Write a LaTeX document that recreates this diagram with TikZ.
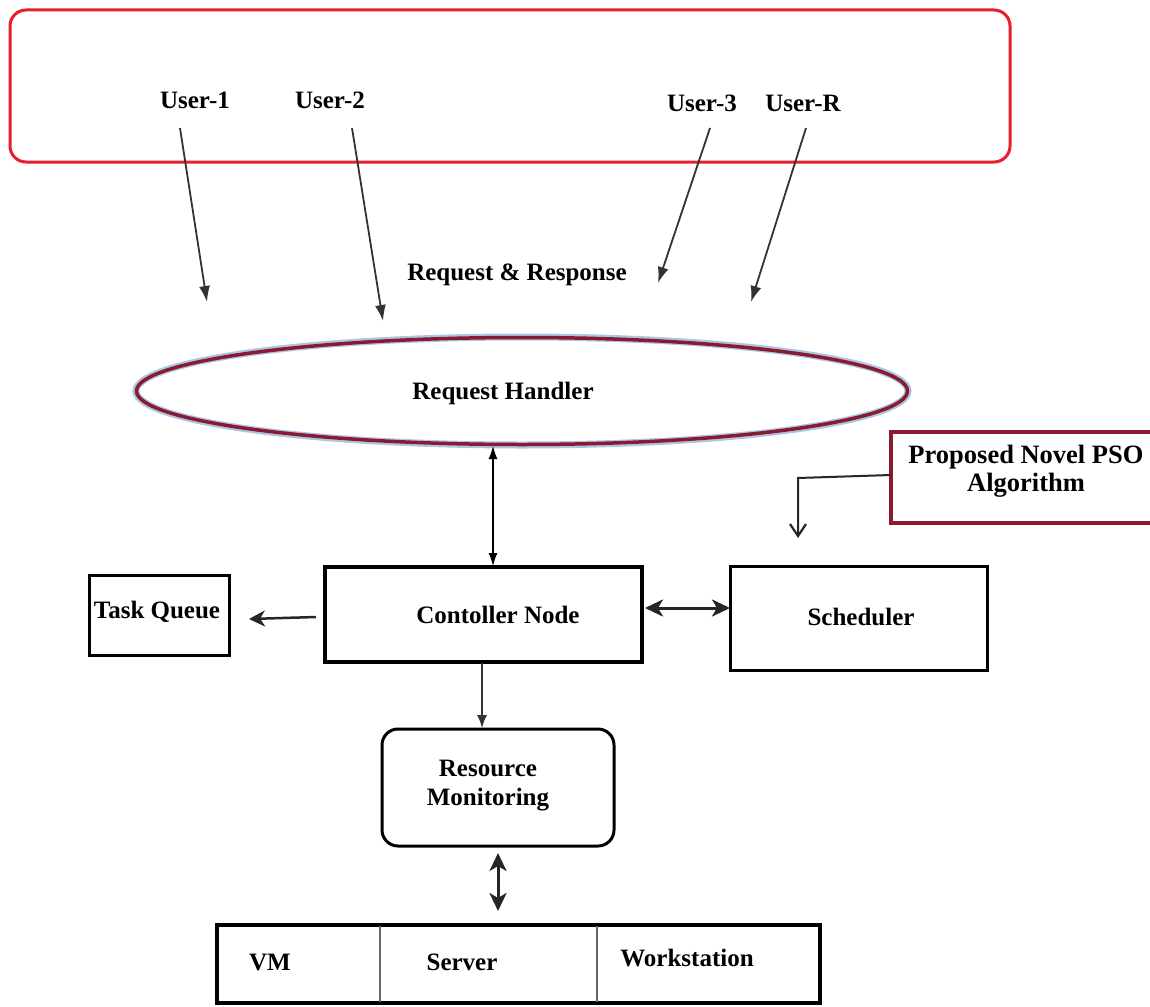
\documentclass[tikz,border=0pt]{standalone}
\usepackage{fontspec}
\setmainfont{Liberation Serif}
\usetikzlibrary{arrows.meta,shapes.geometric}
\definecolor{redframe}{HTML}{E8202A}
\definecolor{darkred}{HTML}{8B1A2E}
\definecolor{glow}{HTML}{A9C6E6}
\begin{document}
\begin{tikzpicture}[x=1pt,y=-1pt,
  lbl/.style={font=\fontsize{25}{29}\selectfont\bfseries, inner sep=0pt, align=center},
  box/.style={draw=black, line width=3.5pt, inner sep=0pt},
  uarrow/.style={draw=black!80, line width=1.8pt, -{Latex[length=16pt,width=11pt]}},
  thinarrow/.style={draw=black, line width=1.3pt, {Latex[length=13pt,width=9pt]}-{Latex[length=13pt,width=9pt]}},
  thickarrow/.style={draw=black!85, line width=3pt, {Stealth[length=18pt,width=17pt,inset=5pt]}-{Stealth[length=18pt,width=17pt,inset=5pt]}}
]
\path[use as bounding box] (0,0) rectangle (1150,1006);
\fill[white] (0,0) rectangle (1150,1006);

% users frame
\node[draw=redframe, line width=3pt, rounded corners=16pt, minimum width=1000pt, minimum height=152pt, inner sep=0pt] (frame) at (510,86) {};
\node[lbl] (u1) at (195,100) {User-1};
\node[lbl] (u2) at (330,100) {User-2};
\node[lbl] (u3) at (702,103) {User-3};
\node[lbl] (uR) at (803,103) {User-R};
\coordinate (s1) at (180,128);
\coordinate (s2) at (352,128);
\coordinate (s3) at (710,128);
\coordinate (s4) at (806,128);
\coordinate (e1) at (207,302);
\coordinate (e2) at (383,321);
\coordinate (e3) at (658,283);
\coordinate (e4) at (751,302);
\draw[uarrow] (s1) -- (e1);
\draw[uarrow] (s2) -- (e2);
\draw[uarrow] (s3) -- (e3);
\draw[uarrow] (s4) -- (e4);
\node[lbl] (rr) at (517,275) {Request \& Response};

% request handler
\node[ellipse, draw=glow, line width=7pt, minimum width=772pt, minimum height=108pt, inner sep=0pt] (rhglow) at (522,391) {};
\node[ellipse, draw=darkred, line width=3.5pt, minimum width=771pt, minimum height=107pt, inner sep=0pt] (rh) at (522,391) {};
\node[lbl] (rhtext) at (503,393) {Request Handler};

% PSO box
\node[draw=darkred, line width=3.5pt, minimum width=280pt, minimum height=91pt, inner sep=0pt] (pso) at (1031,477.5) {};
\node[lbl, font=\fontsize{26.5}{28}\selectfont\bfseries] (psotext) at (1026,471) {Proposed Novel PSO\\Algorithm};

% controller
\node[box, minimum width=317pt, minimum height=95pt] (ctrl) at (483.5,614.5) {};
\node[lbl] (ctrltext) at (498,615) {Contoller Node};

% task queue
\node[box, line width=3pt, minimum width=140pt, minimum height=80pt] (tq) at (159,615) {};
\node[lbl] (tqtext) at (157,612) {Task Queue};

% scheduler
\node[box, line width=3pt, minimum width=257pt, minimum height=104pt] (sch) at (858.5,618) {};
\node[lbl] (schtext) at (861,617) {Scheduler};

% resource monitoring
\node[draw=black, line width=3pt, rounded corners=16pt, minimum width=232pt, minimum height=117pt, inner sep=0pt] (rm) at (498,787.5) {};
\node[lbl] (rmtext) at (488,786) {Resource\\Monitoring};

% bottom resources
\node[box, minimum width=603pt, minimum height=78pt] (res) at (518.5,964) {};
\coordinate (d1t) at (380,926);
\coordinate (d1b) at (380,1002);
\coordinate (d2t) at (597,926);
\coordinate (d2b) at (597,1002);
\draw[black!60, line width=2.5pt] (d1t) -- (d1b);
\draw[black!60, line width=2.5pt] (d2t) -- (d2b);
\node[lbl] (vm) at (270,962) {VM};
\node[lbl] (srv) at (462,962) {Server};
\node[lbl] (ws) at (687,958) {Workstation};

% connectors
\coordinate (a1) at (493,446);
\coordinate (a2) at (493,566);
\draw[thinarrow] (a1) -- (a2);

\coordinate (p1) at (891,475);
\coordinate (p2) at (798,478);
\coordinate (p3) at (798,538);
\draw[draw=black!85, line width=2pt, -{Straight Barb[length=12pt,width=16pt,line width=2.2pt]}] (p1) -- (p2) -- (p3);

\coordinate (t1) at (316,617);
\coordinate (t2) at (249,619);
\draw[draw=black!85, line width=2.5pt, -{Stealth[length=16pt,width=16pt,inset=5pt]}] (t1) -- (t2);

\coordinate (c1) at (645,608);
\coordinate (c2) at (730,608);
\draw[thickarrow] (c1) -- (c2);

\coordinate (m1) at (482,663);
\coordinate (m2) at (482,728);
\draw[draw=black!80, line width=1.5pt, -{Latex[length=13pt,width=10pt]}] (m1) -- (m2);

\coordinate (r1) at (498,853);
\coordinate (r2) at (498,911);
\draw[thickarrow] (r1) -- (r2);
\end{tikzpicture}
\end{document}
